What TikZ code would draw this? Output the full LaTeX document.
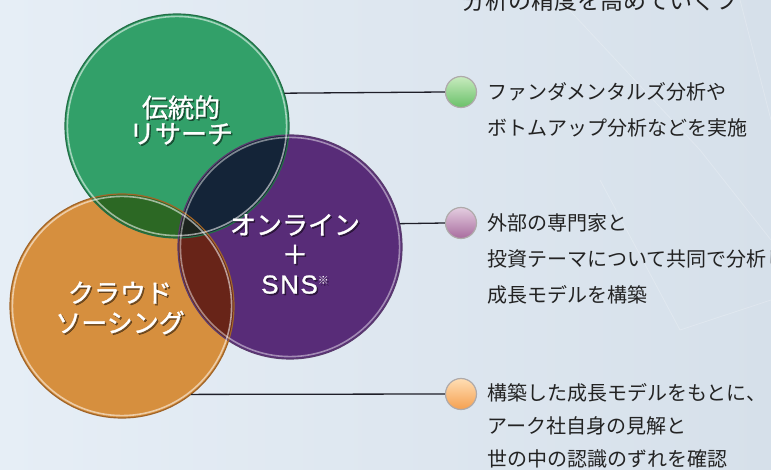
\documentclass[tikz,border=0pt]{standalone}
\usepackage{fontspec}
\newfontfamily\jp{Noto Sans CJK JP}
\newfontfamily\jpb[FakeBold=1.2]{Noto Sans CJK JP}
\newfontfamily\latb[FakeBold=1]{Liberation Sans}
\definecolor{bgL}{RGB}{230,238,246}
\definecolor{bgR}{RGB}{214,224,234}
\definecolor{gfill}{RGB}{50,160,105}
\definecolor{pfill}{RGB}{88,44,120}
\definecolor{ofill}{RGB}{214,143,62}
\definecolor{gpfill}{RGB}{20,36,56}
\definecolor{gofill}{RGB}{44,104,36}
\definecolor{pofill}{RGB}{104,36,24}
\definecolor{trifill}{RGB}{28,36,30}
\definecolor{gedge}{RGB}{35,110,70}
\definecolor{pedge}{RGB}{90,60,110}
\definecolor{oedge}{RGB}{160,100,40}
\definecolor{linec}{RGB}{30,30,40}
\definecolor{txt}{RGB}{35,35,35}
\definecolor{bedge}{RGB}{175,170,170}
\tikzset{
  venn/.style={circle, minimum size=224pt, inner sep=0pt},
  conn/.style={draw=linec, line width=1.3pt},
  bulletdot/.style={circle, minimum size=31pt, inner sep=0pt, draw=bedge, line width=1.2pt},
  desc/.style={anchor=west, align=left, text=txt, inner sep=0pt, font=\jp\fontsize{20}{36}\selectfont},
  vlabel/.style={align=center, text=white, inner sep=0pt},
  vshadow/.style={vlabel, text=black, opacity=.45},
}
\begin{document}
\begin{tikzpicture}[x=1pt,y=-1pt]
\clip (0,0) rectangle (771,470);
\shade[left color=bgL, right color=bgR] (0,0) rectangle (771,470);
% faint background texture
\begin{scope}[white, opacity=.22, line width=0.8pt]
\draw (560,0) -- (700,150) -- (771,240);
\draw (740,0) -- (771,120);
\draw (600,180) -- (680,330) -- (771,300);
\end{scope}

% circles
\node[venn] (gc) at (177,126) {};
\node[venn] (pc) at (290,247) {};
\node[venn] (oc) at (122,306) {};

\fill[gfill] (gc.center) circle[radius=112];
\fill[pfill] (pc.center) circle[radius=112];
\fill[ofill] (oc.center) circle[radius=112];
\begin{scope}
  \clip (gc.center) circle[radius=112];
  \fill[gpfill] (pc.center) circle[radius=112];
\end{scope}
\begin{scope}
  \clip (gc.center) circle[radius=112];
  \fill[gofill] (oc.center) circle[radius=112];
\end{scope}
\begin{scope}
  \clip (pc.center) circle[radius=112];
  \fill[pofill] (oc.center) circle[radius=112];
\end{scope}
\begin{scope}
  \clip (gc.center) circle[radius=112];
  \clip (pc.center) circle[radius=112];
  \fill[trifill] (oc.center) circle[radius=112];
\end{scope}

\draw[gedge, line width=1.2pt] (gc.center) circle[radius=112];
\draw[pedge, line width=1.2pt] (pc.center) circle[radius=112];
\draw[oedge, line width=1.2pt] (oc.center) circle[radius=112];
\draw[white, opacity=.55, line width=1.6pt] (gc.center) circle[radius=109.6];
\draw[white, opacity=.45, line width=1.6pt] (pc.center) circle[radius=109.6];
\draw[white, opacity=.55, line width=1.6pt] (oc.center) circle[radius=109.6];

% circle labels
\node[vshadow, font=\jpb\fontsize{26}{26}\selectfont] (gts) at (182.5,121.5) {伝統的\\リサーチ};
\node[vlabel, font=\jpb\fontsize{26}{26}\selectfont] (gt) at (181,120) {伝統的\\リサーチ};
\node[vshadow, font=\jpb\fontsize{26}{29.5}\selectfont] (pts) at (296.5,255.5) {オンライン\\＋\\{\latb\addfontfeature{LetterSpace=6}SNS}\raisebox{9pt}{\jp\fontsize{11}{11}\selectfont ※}};
\node[vlabel, font=\jpb\fontsize{26}{29.5}\selectfont] (pt) at (295,254) {オンライン\\＋\\{\latb\addfontfeature{LetterSpace=6}SNS}\raisebox{9pt}{\jp\fontsize{11}{11}\selectfont ※}};
\node[vshadow, font=\jpb\fontsize{26}{30}\selectfont] (ots) at (121.5,309.5) {クラウド\\ソーシング};
\node[vlabel, font=\jpb\fontsize{26}{30}\selectfont] (ot) at (120,308) {クラウド\\ソーシング};

% bullets
\node[bulletdot, top color={rgb,255:red,200;green,235;blue,190}, bottom color={rgb,255:red,105;green,192;blue,105}] (gb) at (461,92) {};
\node[bulletdot, top color={rgb,255:red,228;green,205;blue,224}, bottom color={rgb,255:red,168;green,108;blue,158}] (pb) at (461,223) {};
\node[bulletdot, top color={rgb,255:red,255;green,222;blue,180}, bottom color={rgb,255:red,245;green,160;blue,80}] (ob) at (461,394) {};

% connectors
\draw[conn] (gc.17.7) -- (gb.west);
\draw[conn] (pc.12.4) -- (pb.west);
\draw[conn] (oc.-52) -- (ob.west);

% descriptions
\node[desc] (gd) at (487,110) {ファンダメンタルズ分析や\\ボトムアップ分析などを実施};
\node[desc] (pd) at (487,259) {外部の専門家と\\投資テーマについて共同で分析し、\\成長モデルを構築};
\node[desc, font=\jp\fontsize{20}{33}\selectfont] (od) at (487,426) {構築した成長モデルをもとに、\\アーク社自身の見解と\\世の中の認識のずれを確認};

% top text (cut off)
\node[anchor=base west, inner sep=0pt, text=txt, font=\jp\fontsize{23}{23}\selectfont] (top) at (462,10) {分析の精度を高めていくフ};
\end{tikzpicture}
\end{document}
